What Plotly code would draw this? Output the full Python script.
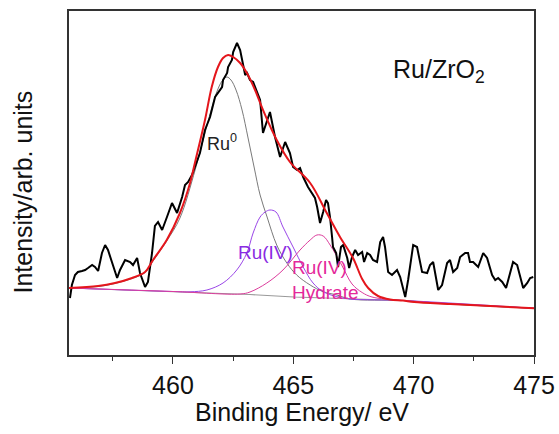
import plotly.graph_objects as go

# Measured spectrum (binding energy in eV, intensity in arb. units)
energy = [455.72, 455.80, 455.93, 456.05, 456.22, 456.35, 456.47, 456.64, 456.76, 456.89,
          457.05, 457.18, 457.30, 457.47, 457.68, 457.80, 458.01, 458.22, 458.34, 458.51,
          458.63, 458.84, 458.96, 459.13, 459.25, 459.38, 459.55, 459.75, 459.96, 460.17,
          460.38, 460.50, 460.63, 460.79, 461.00, 461.12, 461.33, 461.54, 461.75, 461.87,
          462.04, 462.08, 462.25, 462.29, 462.45, 462.50, 462.66, 462.79, 462.87, 462.91,
          463.00, 463.08, 463.20, 463.33, 463.49, 463.62, 463.74, 464.03, 464.24, 464.45,
          464.66, 464.86, 464.99, 465.16, 465.28, 465.41, 465.61, 465.78, 465.90, 465.99,
          466.11, 466.24, 466.36, 466.44, 466.53, 466.61, 466.65, 466.78, 466.86, 466.98,
          467.07, 467.24, 467.32, 467.44, 467.57, 467.69, 467.86, 467.94, 468.07, 468.19,
          468.31, 468.48, 468.61, 468.73, 468.81, 468.94, 469.10, 469.31, 469.44, 469.65,
          469.77, 469.98, 470.14, 470.35, 470.56, 470.68, 470.81, 471.02, 471.18, 471.39,
          471.51, 471.64, 471.81, 471.93, 472.14, 472.26, 472.34, 472.47, 472.68, 472.89,
          473.05, 473.26, 473.39, 473.51, 473.68, 473.84, 474.01, 474.13, 474.30, 474.42,
          474.55, 474.72, 474.84, 474.97]
intensity = [57, 70, 80, 83, 84, 85, 87, 90, 88, 84,
             102, 110, 105, 92, 77, 85, 95, 93, 90, 97,
             82, 68, 73, 102, 129, 133, 125, 138, 152, 142,
             158, 170, 173, 180, 195, 202, 225, 238, 258, 262,
             268, 275, 282, 288, 295, 303, 312, 305, 295, 288,
             280, 282, 275, 273, 262, 255, 222, 243, 218, 198,
             213, 202, 188, 185, 187, 178, 168, 162, 157, 148,
             132, 143, 155, 152, 137, 118, 108, 102, 88, 108,
             110, 97, 87, 98, 105, 100, 103, 93, 102, 100,
             95, 93, 113, 118, 108, 83, 80, 85, 78, 58,
             75, 110, 108, 83, 82, 90, 93, 65, 70, 92,
             95, 83, 87, 98, 102, 102, 93, 93, 88, 102,
             97, 80, 75, 77, 73, 67, 83, 93, 90, 78,
             67, 72, 77, 78]

# Fit envelope
fit_e = [455.68, 456.89, 457.59, 458.30, 458.84, 459.17, 459.74, 460.29, 460.71, 460.92,
         461.33, 461.61, 461.87, 462.08, 462.29, 462.50, 462.79, 463.07, 463.41, 463.74,
         464.31, 464.86, 465.70, 466.39, 466.94, 467.48, 467.86, 468.11, 468.52, 469.02,
         469.56, 470.02, 471.52, 473.18, 475.00]
fit_i = [67, 69, 72, 77, 83, 95, 115, 142, 172, 193,
         235, 268, 288, 297, 300, 298, 292, 282, 265, 245,
         215, 193, 172, 142, 118, 97, 76, 67, 59, 55.5,
         54.5, 53, 51, 49, 46.7]

# Background
bg_e = [455.68, 460.00, 463.20, 465.03, 467.36, 469.56, 471.52, 473.18, 475.00]
bg_i = [67, 63.5, 60.5, 58, 56, 54.5, 51, 49, 46.7]

# Ru0 component
ru0_e = [455.68, 456.89, 457.59, 458.30, 458.84, 459.17, 459.74, 460.29, 460.92, 461.33,
         461.61, 461.82, 462.04, 462.24, 462.41, 462.62, 462.87, 463.12, 463.37, 463.62,
         463.91, 464.31, 464.73, 465.14, 465.70, 466.24, 466.81, 467.36, 469.56, 471.52, 475.00]
ru0_i = [67, 68.5, 71.5, 76.5, 82.5, 94, 114, 137, 185, 222,
         247, 263, 274, 278, 275, 265, 245, 217, 188, 160,
         138, 110, 92, 80, 70, 63.3, 60, 56, 54.5, 51, 46.7]

# Ru(IV) component
ru4_e = [455.68, 460.00, 460.71, 461.41, 462.08, 462.65, 463.07, 463.33, 463.62, 463.83,
         464.03, 464.28, 464.57, 464.99, 465.41, 465.82, 466.24, 466.81, 467.36, 469.56, 475.00]
ru4_i = [67, 63.5, 63.2, 65, 72, 85, 102, 122, 138, 143,
         145, 143, 128, 108, 88, 72, 63.3, 58.3, 56, 54.5, 46.7]

# Ru(IV) hydrate component
hyd_e = [455.68, 460.00, 462.79, 463.20, 463.90, 464.57, 465.28, 465.70, 465.98, 466.24,
         466.53, 467.03, 467.44, 467.86, 468.27, 469.56, 475.00]
hyd_i = [67, 63.5, 61, 63, 72, 85, 105, 115, 120, 119,
         110, 89, 71, 62.5, 58, 54.5, 46.7]

x_ticks = [460, 465, 470, 475]

FONT = "Liberation Sans, Arial, sans-serif"

fig = go.Figure()
fig.add_trace(go.Scatter(x=bg_e, y=bg_i, mode="lines",
                         line=dict(color="#9a9a9a", width=1.2)))
fig.add_trace(go.Scatter(x=ru0_e, y=ru0_i, mode="lines", line_shape="spline",
                         line=dict(color="#7a7a7a", width=1)))
fig.add_trace(go.Scatter(x=ru4_e, y=ru4_i, mode="lines", line_shape="spline",
                         line=dict(color="#9a46e8", width=1)))
fig.add_trace(go.Scatter(x=hyd_e, y=hyd_i, mode="lines", line_shape="spline",
                         line=dict(color="#dc3c9c", width=1)))
fig.add_trace(go.Scatter(x=energy, y=intensity, mode="lines",
                         line=dict(color="black", width=2)))
fig.add_trace(go.Scatter(x=fit_e, y=fit_i, mode="lines", line_shape="spline",
                         line=dict(color="#e4161c", width=2)))

ann = [
    dict(x=462.05, y=213, text="Ru<sup>0</sup>", xanchor="center", yanchor="middle",
         font=dict(size=18, color="#222222")),
    dict(x=462.62, y=103, text="Ru(IV)", xanchor="left", yanchor="middle",
         font=dict(size=19, color="#8a2be2")),
    dict(x=464.86, y=88, text="Ru(IV)", xanchor="left", yanchor="middle",
         font=dict(size=19, color="#e4289a")),
    dict(x=464.86, y=63, text="Hydrate", xanchor="left", yanchor="middle",
         font=dict(size=19, color="#e4289a")),
    dict(x=469.05, y=284, text="Ru/ZrO<sub>2</sub>", xanchor="left", yanchor="middle",
         font=dict(size=25, color="#111111")),
]
for a in ann:
    a.update(xref="x", yref="y", showarrow=False)

# Axis titles placed explicitly
ann += [
    dict(x=0.501, y=-0.165, xref="paper", yref="paper", text="Binding Energy/ eV",
         showarrow=False, xanchor="center", yanchor="middle",
         font=dict(size=25, color="#111111")),
    dict(x=-0.099, y=0.475, xref="paper", yref="paper", text="Intensity/arb. units",
         showarrow=False, xanchor="center", yanchor="middle", textangle=-90,
         font=dict(size=25, color="#111111")),
]

fig.update_layout(
    width=559, height=434,
    margin=dict(l=69, r=25, t=11, b=79),
    paper_bgcolor="white", plot_bgcolor="white",
    showlegend=False,
    font=dict(family=FONT, color="#111111"),
    annotations=ann,
)
fig.update_xaxes(
    range=[455.68, 475.0], tickvals=x_ticks, ticks="outside", ticklen=7,
    tickwidth=1.2, tickcolor="#333333",
    minor=dict(tickvals=[457.5, 462.5, 467.5, 472.5], ticks="outside", ticklen=4,
               tickwidth=1.2, tickcolor="#333333"),
    showline=True, linecolor="#333333", linewidth=1.5, mirror=True,
    showgrid=False, zeroline=False, automargin=False,
    tickfont=dict(size=25, color="#111111"),
)
fig.update_yaxes(
    range=[0, 344], showticklabels=False, ticks="",
    showline=True, linecolor="#333333", linewidth=1.5, mirror=True,
    showgrid=False, zeroline=False, automargin=False,
)

fig.write_html("out.html")
